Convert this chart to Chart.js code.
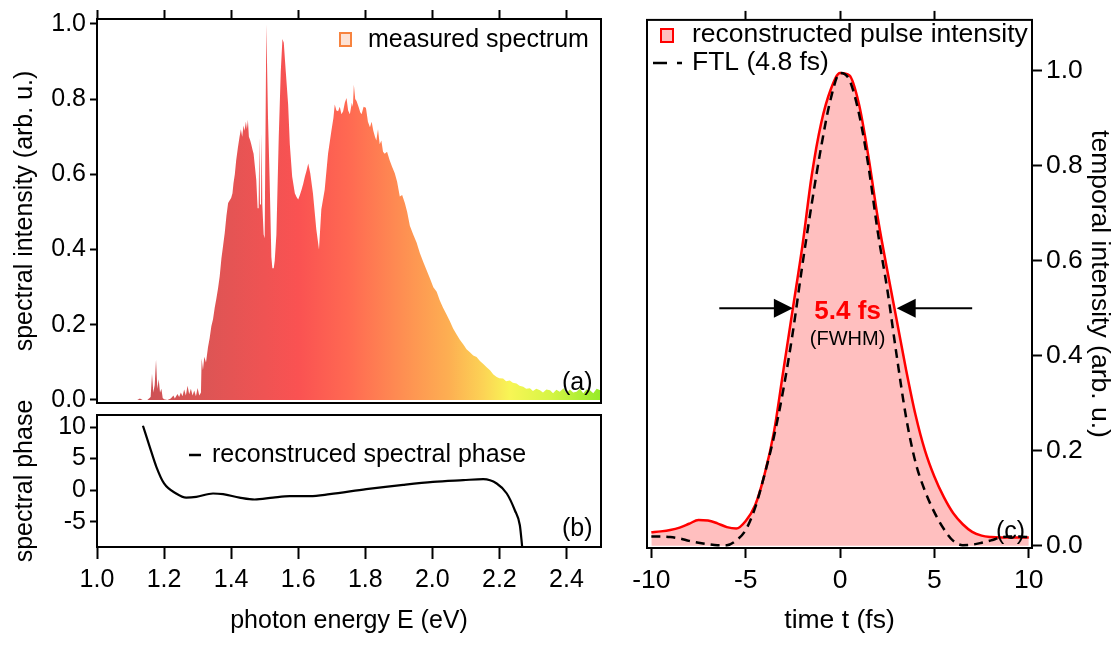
<!DOCTYPE html>
<html>
<head>
<meta charset="utf-8">
<script src="https://cdn.jsdelivr.net/npm/chart.js@4.4.0/dist/chart.umd.min.js"></script>
<style>
  html, body { margin: 0; padding: 0; background: #fff; }
  #wrap { position: relative; width: 1115px; height: 646px; }
  canvas { position: absolute; left: 0; top: 0; }
</style>
</head>
<body>
<div id="wrap">
  <canvas id="spec" width="1115" height="646"></canvas>
  <canvas id="phase" width="1115" height="646"></canvas>
  <canvas id="pulse" width="1115" height="646"></canvas>
</div>
<script>
// (a) measured spectrum, photon energy in eV
const energy = [
  1.100, 1.120, 1.128, 1.136, 1.150, 1.160, 1.164, 1.168, 1.172, 1.176,
  1.180, 1.184, 1.188, 1.192, 1.196, 1.200, 1.210, 1.220, 1.228, 1.232,
  1.240, 1.245, 1.250, 1.255, 1.260, 1.265, 1.270, 1.275, 1.280, 1.285,
  1.290, 1.295, 1.300, 1.305, 1.310, 1.312, 1.316, 1.320, 1.325, 1.331,
  1.336, 1.341, 1.346, 1.351, 1.356, 1.361, 1.366, 1.371, 1.376, 1.381,
  1.386, 1.391, 1.395, 1.400, 1.404, 1.407, 1.411, 1.415, 1.420, 1.425,
  1.429, 1.433, 1.437, 1.440, 1.444, 1.447, 1.450, 1.453, 1.457, 1.460,
  1.464, 1.467, 1.471, 1.475, 1.479, 1.482, 1.484, 1.486, 1.489, 1.491,
  1.493, 1.497, 1.500, 1.505, 1.510, 1.515, 1.520, 1.523, 1.527, 1.530,
  1.535, 1.542, 1.548, 1.553, 1.557, 1.563, 1.570, 1.575, 1.582, 1.590,
  1.595, 1.600, 1.605, 1.610, 1.615, 1.620, 1.625, 1.630, 1.636, 1.644,
  1.654, 1.662, 1.669, 1.679, 1.689, 1.699, 1.705, 1.709, 1.714, 1.719,
  1.724, 1.729, 1.734, 1.739, 1.744, 1.749, 1.754, 1.760, 1.763, 1.766,
  1.770, 1.774, 1.780, 1.785, 1.789, 1.795, 1.802, 1.808, 1.814, 1.819,
  1.824, 1.829, 1.833, 1.838, 1.843, 1.848, 1.853, 1.858, 1.865, 1.873,
  1.880, 1.888, 1.895, 1.903, 1.910, 1.918, 1.925, 1.933, 1.943, 1.953,
  1.963, 1.973, 1.983, 1.993, 2.003, 2.013, 2.022, 2.032, 2.042, 2.052,
  2.062, 2.072, 2.082, 2.092, 2.102, 2.112, 2.122, 2.132, 2.142, 2.152,
  2.162, 2.172, 2.182, 2.192, 2.200, 2.211, 2.220, 2.231, 2.240, 2.251,
  2.260, 2.271, 2.280, 2.291, 2.300, 2.310, 2.321, 2.330, 2.340, 2.351,
  2.360, 2.370, 2.380, 2.391, 2.400, 2.410, 2.420, 2.430, 2.440, 2.450,
  2.460, 2.470, 2.480, 2.490, 2.503
];
const spectrum = [
  0, 0, 0.004, 0, 0, 0.008, 0.07, 0.02, 0.04, 0.107,
  0.03, 0.055, 0.02, 0.03, 0.005, 0.002, 0, 0.004, 0.012, 0.004,
  0.016, 0.008, 0.02, 0.01, 0.028, 0.012, 0.038, 0.015, 0.03, 0.012,
  0.025, 0.01, 0.032, 0.012, 0.02, 0.11, 0.08, 0.115, 0.10, 0.14,
  0.165, 0.196, 0.215, 0.245, 0.27, 0.297, 0.33, 0.376, 0.41, 0.445,
  0.49, 0.524, 0.53, 0.537, 0.55, 0.576, 0.60, 0.637, 0.67, 0.699,
  0.72, 0.70, 0.73, 0.716, 0.74, 0.72, 0.745, 0.70, 0.69, 0.68,
  0.665, 0.655, 0.62, 0.585, 0.51, 0.51, 0.70, 0.52, 0.52, 0.71,
  0.52, 0.44, 0.43, 1.0, 0.75, 0.58, 0.38, 0.35, 0.35, 0.37,
  0.44, 0.70, 0.873, 0.96, 0.95, 0.873, 0.786, 0.68, 0.594, 0.55,
  0.54, 0.533, 0.545, 0.559, 0.575, 0.594, 0.61, 0.629, 0.603, 0.55,
  0.454, 0.40, 0.507, 0.559, 0.655, 0.716, 0.75, 0.786, 0.77, 0.768,
  0.78, 0.76, 0.768, 0.79, 0.803, 0.77, 0.76, 0.79, 0.78, 0.838,
  0.80, 0.795, 0.78, 0.765, 0.76, 0.78, 0.777, 0.74, 0.725, 0.74,
  0.716, 0.70, 0.69, 0.72, 0.68, 0.69, 0.66, 0.655, 0.66, 0.637,
  0.62, 0.603, 0.58, 0.541, 0.545, 0.524, 0.50, 0.463, 0.44, 0.419,
  0.39, 0.367, 0.345, 0.323, 0.30, 0.288, 0.265, 0.245, 0.228, 0.21,
  0.19, 0.175, 0.16, 0.148, 0.135, 0.127, 0.118, 0.114, 0.104, 0.096,
  0.087, 0.079, 0.068, 0.061, 0.058, 0.057, 0.050, 0.052, 0.046, 0.044,
  0.038, 0.035, 0.030, 0.031, 0.024, 0.030, 0.026, 0.020, 0.028, 0.026,
  0.018, 0.027, 0.022, 0.031, 0.018, 0.028, 0.020, 0.022, 0.030, 0.018,
  0.028, 0.026, 0.018, 0.030, 0.025
];

// (b) reconstructed spectral phase
const phaseEnergy = [1.137, 1.157, 1.177, 1.20, 1.236, 1.266, 1.296, 1.346, 1.376, 1.425,
  1.470, 1.525, 1.575, 1.635, 1.694, 1.803, 1.913, 2.002, 2.092, 2.152,
  2.192, 2.222, 2.246, 2.261, 2.268];
const phase = [10.2, 6.9, 3.7, 1.06, -0.53, -1.17, -1.06, -0.53, -0.64, -1.17,
  -1.48, -1.17, -0.95, -0.95, -0.64, 0.16, 0.85, 1.32, 1.59, 1.75,
  1.06, -0.53, -3.18, -5.56, -9.0];

// (c) temporal intensity, time in fs
const time = [-10, -9.5, -9, -8.5, -8, -7.5, -7, -6.5, -6, -5.5, -5, -4.5, -4, -3.5, -3, -2.5, -2,
  -1.5, -1, -0.5, 0, 0.5, 1, 1.5, 2, 2.5, 3, 3.5, 4, 4.5, 5, 5.5, 6, 6.5, 7, 7.5, 8, 8.5, 9, 9.5, 10];
const pulse = [0.028, 0.030, 0.033, 0.038, 0.046, 0.054, 0.053, 0.047, 0.039, 0.036, 0.052, 0.085,
  0.15, 0.24, 0.37, 0.50, 0.63, 0.78, 0.89, 0.96, 0.995, 0.99, 0.93, 0.82, 0.69, 0.58, 0.475,
  0.37, 0.275, 0.20, 0.145, 0.102, 0.068, 0.045, 0.029, 0.021, 0.018, 0.017, 0.017, 0.017, 0.017];
const ftl = [0.019, 0.019, 0.018, 0.015, 0.010, 0.006, 0.003, 0.001, 0.001, 0.011, 0.033, 0.08,
  0.15, 0.23, 0.33, 0.45, 0.59, 0.72, 0.84, 0.94, 0.995, 0.98, 0.91, 0.80, 0.66, 0.54, 0.40,
  0.27, 0.175, 0.115, 0.07, 0.035, 0.01, 0.001, 0.002, 0.006, 0.011, 0.017, 0.019, 0.019, 0.018];

// FWHM marker: arrows end on the curve at half maximum
const fwhmLevel = 0.5;
const fwhmArrows = [[-6.4, -2.5], [7.0, 3.0]];

// tick values
const energyTicks = [1.0, 1.2, 1.4, 1.6, 1.8, 2.0, 2.2, 2.4];
const intensityTicks = [0, 0.2, 0.4, 0.6, 0.8, 1.0];
const phaseTicks = [-5, 0, 5, 10];
const timeTicks = [-10, -5, 0, 5, 10];
const timeTopTicks = [-5, 0, 5];
const temporalTicks = [0, 0.2, 0.4, 0.6, 0.8, 1.0];

// colour ramp of the spectrum fill
const rampEnergy = [1.10, 1.30, 1.60, 1.75, 1.90, 2.05, 2.15, 2.23, 2.35, 2.50];
const rampColor = ['rgb(200,80,85)', 'rgb(218,85,85)', 'rgb(250,82,82)', 'rgb(255,105,82)',
  'rgb(254,140,82)', 'rgb(253,175,82)', 'rgb(252,210,85)', 'rgb(248,245,85)',
  'rgb(215,245,70)', 'rgb(150,235,40)'];

const FONT = 'Liberation Sans, Arial, Helvetica, sans-serif';
const BIG = 26.5;   // panel (c) uses a slightly larger type
Chart.defaults.font.family = FONT;
Chart.defaults.font.size = 25;
Chart.defaults.color = '#000';

function fixedTicks(values) {
  return s => { s.ticks = values.map(v => ({ value: v })); };
}
function tickGrid(len) {
  return { drawOnChartArea: false, drawTicks: true, tickLength: len, tickWidth: 2, tickColor: '#000' };
}
function xy(xs, ys) {
  return xs.map((x, i) => ({ x: x, y: ys[i] }));
}

const frame = {
  id: 'frame',
  afterDatasetsDraw(chart) {
    const { ctx, chartArea: a } = chart;
    ctx.save();
    ctx.strokeStyle = '#000';
    ctx.lineWidth = 2;
    ctx.strokeRect(a.left, a.top, a.right - a.left, a.bottom - a.top);
    ctx.restore();
  }
};

function text(ctx, str, x, y, opts) {
  opts = opts || {};
  ctx.save();
  ctx.font = (opts.weight || '') + ' ' + (opts.size || 25) + 'px ' + FONT;
  ctx.fillStyle = opts.color || '#000';
  ctx.textAlign = opts.align || 'left';
  ctx.textBaseline = 'middle';
  ctx.fillText(str, x, y);
  ctx.restore();
}

function spectrumFill(context) {
  const chart = context.chart;
  if (!chart.chartArea) return 'rgb(240,90,80)';
  const xs = chart.scales.x;
  const e0 = rampEnergy[0], e1 = rampEnergy[rampEnergy.length - 1];
  const g = chart.ctx.createLinearGradient(xs.getPixelForValue(e0), 0, xs.getPixelForValue(e1), 0);
  rampEnergy.forEach((e, i) => g.addColorStop((e - e0) / (e1 - e0), rampColor[i]));
  return g;
}

const base = {
  responsive: false,
  animation: false,
  devicePixelRatio: 1,
  events: [],
  plugins: { legend: { display: false }, tooltip: { enabled: false } }
};

// ---- (a) spectrum
new Chart(document.getElementById('spec'), {
  type: 'line',
  data: {
    datasets: [{
      data: xy(energy, spectrum),
      fill: 'origin',
      backgroundColor: spectrumFill,
      borderColor: 'rgba(0,0,0,0)',
      borderWidth: 0,
      pointRadius: 0,
      tension: 0
    }]
  },
  options: Object.assign({}, base, {
    layout: { padding: { left: 0, top: 0, right: 514, bottom: 243 } },
    scales: {
      x: {
        type: 'linear', position: 'top', min: 1.0, max: 2.503,
        afterBuildTicks: fixedTicks(energyTicks),
        ticks: { display: false },
        grid: tickGrid(9), border: { display: false },
        afterFit: s => { s.height = 13; }
      },
      y: {
        type: 'linear', min: -0.008, max: 1.013,
        afterBuildTicks: fixedTicks(intensityTicks),
        ticks: { callback: v => v.toFixed(1), padding: 4, autoSkip: false },
        grid: tickGrid(7), border: { display: false },
        title: { display: true, text: 'spectral intensity (arb. u.)', padding: { top: 10, bottom: 0 } },
        afterFit: s => { s.width = 97; }
      }
    }
  }),
  plugins: [frame, {
    id: 'notesA',
    afterDraw(chart) {
      const ctx = chart.ctx;
      ctx.save();
      ctx.fillStyle = '#fde2d4';
      ctx.strokeStyle = '#f7833f';
      ctx.lineWidth = 2;
      ctx.fillRect(340, 33, 11, 13);
      ctx.strokeRect(340, 33, 11, 13);
      ctx.restore();
      text(ctx, 'measured spectrum', 368, 40);
      text(ctx, '(a)', 562, 383);
    }
  }]
});

// ---- (b) spectral phase
new Chart(document.getElementById('phase'), {
  type: 'line',
  data: {
    datasets: [{
      data: xy(phaseEnergy, phase),
      fill: false,
      borderColor: '#000',
      borderWidth: 2.2,
      pointRadius: 0,
      cubicInterpolationMode: 'monotone'
    }]
  },
  options: Object.assign({}, base, {
    layout: { padding: { left: 0, top: 415, right: 514, bottom: 0 } },
    scales: {
      x: {
        type: 'linear', position: 'bottom', min: 1.0, max: 2.503,
        afterBuildTicks: fixedTicks(energyTicks),
        ticks: { callback: v => v.toFixed(1), padding: 6, autoSkip: false, maxRotation: 0 },
        grid: tickGrid(12), border: { display: false },
        title: { display: true, text: 'photon energy E (eV)', padding: { top: 0, bottom: 10 } },
        afterFit: s => { s.height = 99; }
      },
      y: {
        type: 'linear', min: -9.0, max: 11.9,
        afterBuildTicks: fixedTicks(phaseTicks),
        ticks: { callback: v => String(v), padding: 4, autoSkip: false },
        grid: tickGrid(7), border: { display: false },
        title: { display: true, text: 'spectral phase', padding: { top: 10, bottom: 0 } },
        afterFit: s => { s.width = 97; }
      }
    }
  }),
  plugins: [frame, {
    id: 'notesB',
    afterDraw(chart) {
      const ctx = chart.ctx;
      ctx.save();
      ctx.strokeStyle = '#000';
      ctx.lineWidth = 2.5;
      ctx.beginPath();
      ctx.moveTo(189, 455);
      ctx.lineTo(201, 455);
      ctx.stroke();
      ctx.restore();
      text(ctx, 'reconstruced spectral phase', 212, 455);
      text(ctx, '(b)', 562, 529);
    }
  }]
});

// ---- (c) temporal intensity
new Chart(document.getElementById('pulse'), {
  type: 'line',
  data: {
    datasets: [{
      data: xy(time, ftl),
      fill: false,
      borderColor: '#000',
      borderWidth: 2.5,
      borderDash: [9, 6],
      pointRadius: 0,
      cubicInterpolationMode: 'monotone'
    }, {
      data: xy(time, pulse),
      fill: 'origin',
      backgroundColor: '#ffbfbf',
      borderColor: '#ff0000',
      borderWidth: 2.5,
      pointRadius: 0,
      cubicInterpolationMode: 'monotone'
    }]
  },
  options: Object.assign({}, base, {
    layout: { padding: { left: 647, top: 0, right: 0, bottom: 0 } },
    scales: {
      x: {
        type: 'linear', position: 'bottom', min: -10.23, max: 10.17,
        afterBuildTicks: fixedTicks(timeTicks),
        ticks: { callback: v => String(v), padding: 7, autoSkip: false, maxRotation: 0, font: { size: BIG } },
        grid: tickGrid(10), border: { display: false },
        title: { display: true, text: 'time t (fs)', font: { size: BIG }, padding: { top: 0, bottom: 9 } },
        afterFit: s => { s.height = 98; }
      },
      x2: {
        type: 'linear', position: 'top', min: -10.23, max: 10.17,
        afterBuildTicks: fixedTicks(timeTopTicks),
        ticks: { display: false },
        grid: tickGrid(9), border: { display: false },
        afterFit: s => { s.height = 14; }
      },
      y: {
        type: 'linear', position: 'right', min: -0.005, max: 1.107,
        afterBuildTicks: fixedTicks(temporalTicks),
        ticks: { callback: v => v.toFixed(1), padding: 4, autoSkip: false, font: { size: BIG } },
        grid: tickGrid(10), border: { display: false },
        title: { display: true, text: 'temporal intensity (arb. u.)', font: { size: BIG }, padding: { top: 0, bottom: 0 } },
        afterFit: s => { s.width = 83; }
      }
    }
  }),
  plugins: [frame, {
    id: 'notesC',
    afterDraw(chart) {
      const ctx = chart.ctx;
      const xs = chart.scales.x, ys = chart.scales.y;
      ctx.save();
      ctx.fillStyle = '#ffbfbf';
      ctx.strokeStyle = '#ff0000';
      ctx.lineWidth = 2;
      ctx.fillRect(661, 29, 12, 13);
      ctx.strokeRect(661, 29, 12, 13);
      ctx.strokeStyle = '#000';
      ctx.lineWidth = 2.5;
      ctx.setLineDash([14, 10]);
      ctx.beginPath();
      ctx.moveTo(653, 63);
      ctx.lineTo(682, 63);
      ctx.stroke();
      ctx.setLineDash([]);

      // FWHM arrows
      const yp = ys.getPixelForValue(fwhmLevel);
      ctx.lineWidth = 2;
      ctx.fillStyle = '#000';
      fwhmArrows.forEach(([from, to]) => {
        const x0 = xs.getPixelForValue(from), x1 = xs.getPixelForValue(to);
        const dir = Math.sign(x1 - x0);
        ctx.beginPath();
        ctx.moveTo(x0, yp);
        ctx.lineTo(x1 - dir * 18, yp);
        ctx.stroke();
        ctx.beginPath();
        ctx.moveTo(x1, yp);
        ctx.lineTo(x1 - dir * 19, yp - 9.5);
        ctx.lineTo(x1 - dir * 19, yp + 9.5);
        ctx.closePath();
        ctx.fill();
      });
      ctx.restore();

      text(ctx, 'reconstructed pulse intensity', 692, 35, { size: BIG });
      text(ctx, 'FTL (4.8 fs)', 692, 63, { size: BIG });
      const cx = xs.getPixelForValue(0.4);
      text(ctx, '5.4 fs', cx, ys.getPixelForValue(0.492), { weight: 'bold', color: '#ff0000', align: 'center', size: 26 });
      text(ctx, '(FWHM)', cx, ys.getPixelForValue(0.434), { size: 20, align: 'center' });
      text(ctx, '(c)', 996, 532);
    }
  }]
});
</script>
</body>
</html>
